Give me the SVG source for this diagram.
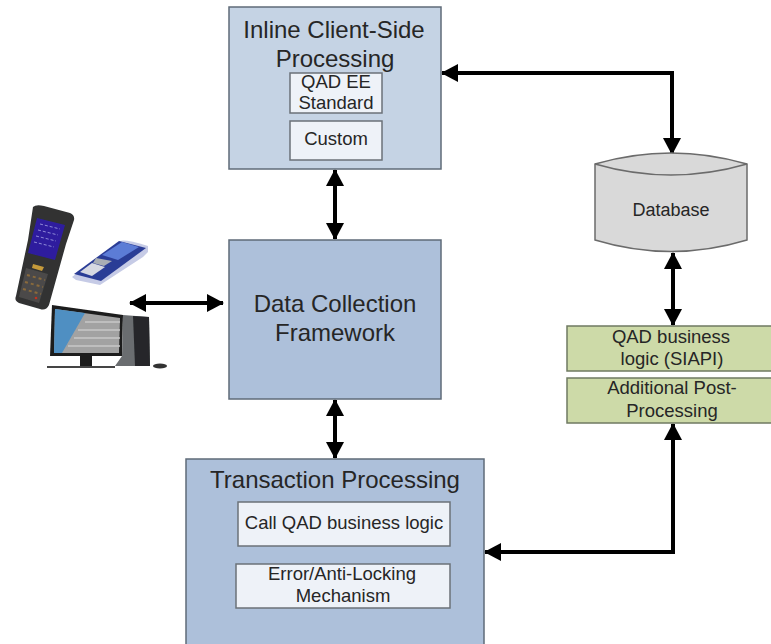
<svg xmlns="http://www.w3.org/2000/svg" width="771" height="644" viewBox="0 0 771 644">
<style>
text{font-family:"Liberation Sans",Arial,sans-serif;fill:#262626;text-anchor:middle}
.big{font-size:24px}.mid{font-size:18.5px}
.box{stroke:#5f6b78;stroke-width:1.5}
.in{fill:#eef2f8;stroke:#6b7178;stroke-width:1.5}
.gr{fill:#cddaa8;stroke:#6f7a62;stroke-width:1.5}
.c{fill:none;stroke:#000;stroke-width:4}
</style>
<defs>
<filter id="soft" x="-5%" y="-5%" width="110%" height="110%"><feGaussianBlur stdDeviation="0.6"/></filter>
<linearGradient id="bar" x1="0" y1="0" x2="0" y2="1" spreadMethod="repeat"><stop offset="0" stop-color="#a8a8a8"/><stop offset="1" stop-color="#8c8c8c"/></linearGradient>
<marker id="ah" viewBox="0 0 17 18" refX="16" refY="9" markerWidth="17" markerHeight="18" markerUnits="userSpaceOnUse" orient="auto-start-reverse"><path d="M0 0L17 9L0 18z" fill="#000"/></marker>
</defs>
<rect width="771" height="644" fill="#fff"/>
<g id="devices" filter="url(#soft)">
<g id="rugged-device">
<path d="M33 207Q36 204 44 206L70 213Q75 215 74 220L66 244L49 305Q46 311 40 309L19 303Q14 301 16 296L28 240z" fill="#303233"/>
<path d="M37 218L65 225L55 260L28 253z" fill="#2e1f9e"/>
<path d="M40 224L60 229M38 230L58 235M36 236L56 241M34 242L54 247" stroke="#8f88d8" stroke-width="1" stroke-dasharray="3 2"/>
<path d="M33 264L44 267L42 271L32 268z" fill="#c59a3a"/>
<path d="M26 268L48 274L39 303L19 297z" fill="#4b4a48"/>
<path d="M27 275L45 280M25 282L43 287M23 289L41 294" stroke="#8a6a3c" stroke-width="2" stroke-dasharray="3 3"/>
<circle cx="36" cy="298" r="1.3" fill="#c03020"/>
</g>
<g id="cell-phone">
<path d="M72 277L120 241Q125 239 148 246L148 252L143 257L100 285L76 280z" fill="#c6cbe6"/>
<path d="M74 274L119 241L146 248L101 281z" fill="#2c3d96"/>
<path d="M102 255L122 242L139 247L118 260z" fill="#5c7cd6"/>
<path d="M96 258L112 261L104 266L93 263z" fill="#a9aeb5"/>
<path d="M80 272L92 263L105 267L92 276z" fill="#d6d8e2"/>
</g>
<g id="computer">
<path d="M52 305L123 315L122 356L50 356z" fill="#1c1c1c"/>
<path d="M55 309L120 318L119 353L54 353z" fill="#a2a2a2"/>
<path d="M55 309L85 313L62 353L54 353z" fill="#4f8fc2"/>
<path d="M85 322H120M78 330H120M74 338H120M68 346H120" stroke="#c8c8c8" stroke-width="1.5"/>
<path d="M80 356H92V366H80z" fill="#1c1c1c"/>
<path d="M123 315L149 317L150 366L115 366L122 356z" fill="#6a6d70"/>
<path d="M133 316L149 317L150 366L135 366z" fill="#26282a"/>
<path d="M47 367H115" stroke="#444" stroke-width="2"/>
<ellipse cx="160" cy="366" rx="7" ry="2.5" fill="#333"/>
</g>
</g>
<g id="connectors">
<path class="c" marker-start="url(#ah)" marker-end="url(#ah)" d="M335 170V239"/>
<path class="c" marker-start="url(#ah)" marker-end="url(#ah)" d="M130 303H223"/>
<path class="c" marker-start="url(#ah)" marker-end="url(#ah)" d="M335 400V458"/>
<path class="c" marker-start="url(#ah)" marker-end="url(#ah)" d="M442 73H672V154"/>
<path class="c" marker-start="url(#ah)" marker-end="url(#ah)" d="M673 253V325"/>
<path class="c" marker-start="url(#ah)" marker-end="url(#ah)" d="M673 424V552H485"/>
</g>
<g id="inline-processing">
<rect class="box" x="229" y="7" width="212" height="162" fill="#c5d3e4"/>
<text class="big" x="334" y="38">Inline Client-Side</text>
<text class="big" x="335" y="67">Processing</text>
<rect class="in" x="290" y="73" width="92" height="40"/>
<text class="mid" x="336" y="88">QAD EE</text>
<text class="mid" x="336" y="109">Standard</text>
</g>
<g id="custom">
<rect class="in" x="290" y="121" width="92" height="39"/>
<text class="mid" x="336" y="145">Custom</text>
</g>
<g id="framework">
<rect class="box" x="229" y="240" width="212" height="159" fill="#adc0da"/>
<text class="big" x="335" y="312">Data Collection</text>
<text class="big" x="335" y="341">Framework</text>
</g>
<g id="transaction">
<rect class="box" x="186" y="459" width="298" height="190" fill="#adc0da"/>
<text class="big" x="335" y="488">Transaction Processing</text>
</g>
<g id="call-logic">
<rect class="in" x="238" y="502" width="212" height="44"/>
<text class="mid" x="344" y="529">Call QAD business logic</text>
</g>
<g id="error-mechanism">
<rect class="in" x="236" y="564" width="214" height="44"/>
<text class="mid" x="342" y="580">Error/Anti-Locking</text>
<text class="mid" x="343" y="602">Mechanism</text>
</g>
<g id="database">
<path d="M595 164Q671 142 747 164V240Q671 263 595 240z" fill="#d9d9d9" stroke="#6b6b6b" stroke-width="1.5"/>
<path d="M595 164Q671 186 747 164" fill="none" stroke="#6b6b6b" stroke-width="1.5"/>
<text x="671" y="216" font-size="18">Database</text>
</g>
<g id="siapi">
<rect class="gr" x="567" y="326" width="210" height="45"/>
<text class="mid" x="671" y="343">QAD business</text>
<text class="mid" x="672" y="365">logic (SIAPI)</text>
</g>
<g id="post-processing">
<rect class="gr" x="567" y="378" width="210" height="45"/>
<text class="mid" x="672" y="394">Additional Post-</text>
<text class="mid" x="672" y="417">Processing</text>
</g>
</svg>
